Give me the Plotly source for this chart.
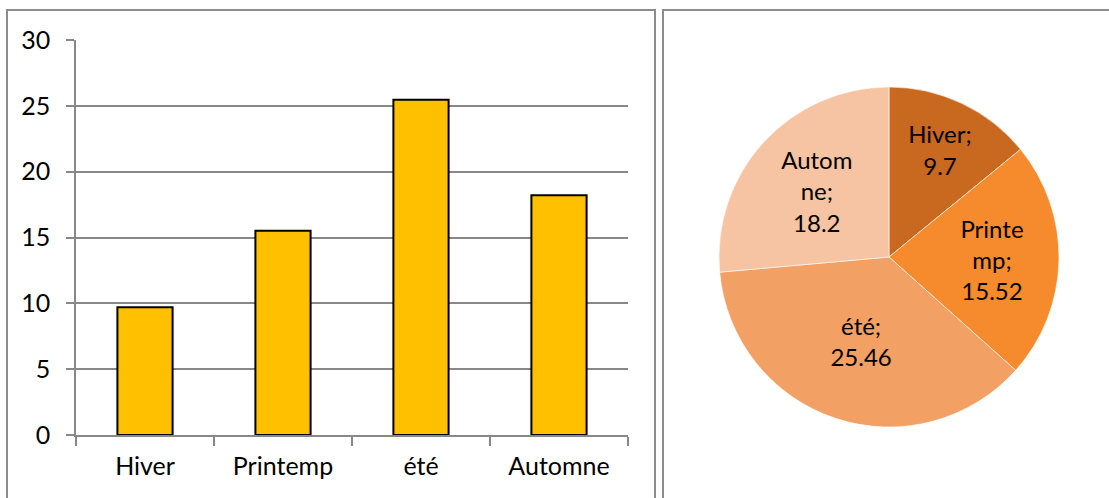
import plotly.graph_objects as go

W, H = 1109, 498

categories = ["Hiver", "Printemp", "été", "Automne"]
values = [9.7, 15.52, 25.46, 18.2]
pie_text = ["Hiver;<br>9.7", "Printe<br>mp;<br>15.52", "été;<br>25.46", "Autom<br>ne;<br>18.2"]
pie_colors = ["#C9681F", "#F58B2C", "#F2A063", "#F6C4A2"]
y_ticks = [0, 5, 10, 15, 20, 25, 30]

FONT = "Lato"
GRID = "#888888"
FS = 25
PFS = 24

def px(x):
    return x / W

def py(y):
    return 1 - y / H

fig = go.Figure()

fig.add_trace(go.Bar(
    x=categories, y=values,
    marker=dict(color="#FFC000", line=dict(color="#000000", width=2)),
    width=0.4, xaxis="x", yaxis="y", showlegend=False,
))

fig.add_trace(go.Pie(
    labels=categories, values=values, text=pie_text,
    texttemplate="%{text}", textinfo="text",
    textposition="inside", insidetextorientation="horizontal",
    sort=False, direction="clockwise", rotation=0,
    marker=dict(colors=pie_colors, line=dict(color="rgba(255,255,255,0.6)", width=1)),
    textfont=dict(family=FONT, size=PFS, color="#000000"),
    domain=dict(x=[px(719), px(1059)], y=[py(427), py(87)]),
    showlegend=False,
))

fig.update_layout(
    width=W, height=H,
    template="none",
    margin=dict(l=0, r=0, t=0, b=0, autoexpand=False),
    paper_bgcolor="white", plot_bgcolor="white",
    font=dict(family=FONT, size=FS, color="#000000"),
    uniformtext=dict(minsize=PFS, mode="show"),
    xaxis=dict(
        domain=[px(76), px(628)], anchor="y", automargin=False,
        showline=True, linecolor=GRID, linewidth=1.5,
        ticks="outside", ticklen=9, tickcolor=GRID, tickwidth=1.5,
        tickson="boundaries", showgrid=False,
        tickfont=dict(family=FONT, size=FS, color="#000000"),
        ticklabelstandoff=8,
    ),
    yaxis=dict(
        domain=[py(435), py(40)], anchor="x", automargin=False,
        range=[0, 30], tickvals=y_ticks,
        showline=True, linecolor=GRID, linewidth=1.5,
        ticks="outside", ticklen=8, tickcolor=GRID, tickwidth=1.5,
        showgrid=True, gridcolor=GRID, gridwidth=1.5,
        zeroline=False,
        tickfont=dict(family=FONT, size=FS, color="#000000"),
        ticklabelstandoff=11,
    ),
    shapes=[
        dict(type="rect", xref="paper", yref="paper",
             x0=px(7), x1=px(655), y0=py(520), y1=py(10),
             line=dict(color="#8C8C8C", width=2), fillcolor="rgba(0,0,0,0)"),
        dict(type="rect", xref="paper", yref="paper",
             x0=px(663), x1=px(1125), y0=py(520), y1=py(10),
             line=dict(color="#8C8C8C", width=2), fillcolor="rgba(0,0,0,0)"),
    ],
)

fig.write_html("out.html")
